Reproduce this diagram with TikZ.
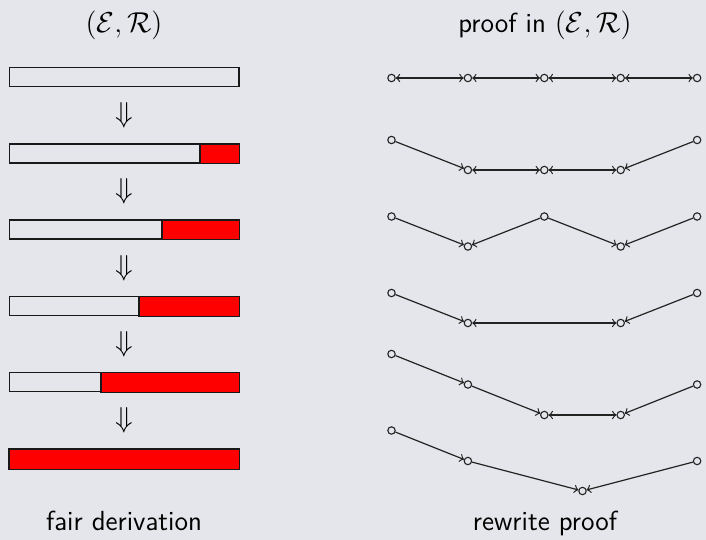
\documentclass[tikz,border=0pt]{standalone}
\usepackage{amsmath}
\definecolor{bg}{RGB}{229,230,235}
\definecolor{edgec}{RGB}{35,35,35}
\begin{document}
\begin{tikzpicture}[x=0.5pt,y=-0.5pt,
  bar/.style={draw=black!90,line width=0.55pt,fill=bg,rectangle,inner sep=0,minimum width=114.75pt,minimum height=9.5pt},
  redpart/.style={draw=black!90,line width=0.55pt,fill=red},
  lbl/.style={font=\fontsize{13.8}{16}\selectfont\sffamily,inner sep=0},
  darr/.style={font=\fontsize{13.8}{16}\selectfont,inner sep=0},
  pt/.style={circle,draw=edgec,line width=0.55pt,inner sep=0,minimum size=3.7pt},
  eg/.style={draw=edgec,line width=0.6pt},
  >=to]
\fill[bg] (0,0) rectangle (706,540);
\useasboundingbox (0,0) rectangle (706,540);

% titles
\node[lbl,anchor=base] (t1) at (124,33) {$(\mathcal{E},\mathcal{R})$};
\node[lbl,anchor=base] (t2) at (545,33) {proof in $(\mathcal{E},\mathcal{R})$};
\node[lbl,anchor=base] (t3) at (124,530) {fair derivation};
\node[lbl,anchor=base] (t4) at (545,530) {rewrite proof};

% bars
\node[bar] (b1) at (124.25,77) {};
\node[bar] (b2) at (124.25,153.5) {};
\node[bar] (b3) at (124.25,229.5) {};
\node[bar] (b4) at (124.25,306) {};
\node[bar] (b5) at (124.25,382) {};
\node[bar] (b6) at (124.25,459) {};
\draw[redpart] (200,153.5-19/2) rectangle (b2.south east);
\draw[redpart] (162,229.5-19/2) rectangle (b3.south east);
\draw[redpart] (139,306-19/2) rectangle (b4.south east);
\draw[redpart] (101,382-19/2) rectangle (b5.south east);
\draw[redpart] (b6.north west) rectangle (b6.south east);

% derivation arrows
\node[darr] (d1) at (124,115) {$\Downarrow$};
\node[darr] (d2) at (124,191.5) {$\Downarrow$};
\node[darr] (d3) at (124,268) {$\Downarrow$};
\node[darr] (d4) at (124,344) {$\Downarrow$};
\node[darr] (d5) at (124,420.5) {$\Downarrow$};

% row 1
\node[pt] (r1a) at (391.5,78) {};
\node[pt] (r1b) at (467.9,78) {};
\node[pt] (r1c) at (544.3,78) {};
\node[pt] (r1d) at (620.7,78) {};
\node[pt] (r1e) at (697.1,78) {};
\draw[eg,<->] (r1a) -- (r1b);
\draw[eg,<->] (r1b) -- (r1c);
\draw[eg,<->] (r1c) -- (r1d);
\draw[eg,<->] (r1d) -- (r1e);

% row 2
\node[pt] (r2a) at (391.5,140) {};
\node[pt] (r2b) at (467.9,170) {};
\node[pt] (r2c) at (544.3,170) {};
\node[pt] (r2d) at (620.7,170) {};
\node[pt] (r2e) at (697.1,140) {};
\draw[eg,->] (r2a) -- (r2b);
\draw[eg,<->] (r2b) -- (r2c);
\draw[eg,<->] (r2c) -- (r2d);
\draw[eg,->] (r2e) -- (r2d);

% row 3
\node[pt] (r3a) at (391.5,216.5) {};
\node[pt] (r3b) at (467.9,246.5) {};
\node[pt] (r3c) at (544.3,216.5) {};
\node[pt] (r3d) at (620.7,246.5) {};
\node[pt] (r3e) at (697.1,216.5) {};
\draw[eg,->] (r3a) -- (r3b);
\draw[eg,->] (r3c) -- (r3b);
\draw[eg,->] (r3c) -- (r3d);
\draw[eg,->] (r3e) -- (r3d);

% row 4
\node[pt] (r4a) at (391.5,293) {};
\node[pt] (r4b) at (467.9,323) {};
\node[pt] (r4d) at (620.7,323) {};
\node[pt] (r4e) at (697.1,293) {};
\draw[eg,->] (r4a) -- (r4b);
\draw[eg,<->] (r4b) -- (r4d);
\draw[eg,->] (r4e) -- (r4d);

% row 5
\node[pt] (r5a) at (391.5,354) {};
\node[pt] (r5b) at (467.9,384.5) {};
\node[pt] (r5c) at (544.3,415) {};
\node[pt] (r5d) at (620.7,415) {};
\node[pt] (r5e) at (697.1,384.5) {};
\draw[eg,->] (r5a) -- (r5b);
\draw[eg,->] (r5b) -- (r5c);
\draw[eg,<->] (r5c) -- (r5d);
\draw[eg,->] (r5e) -- (r5d);

% row 6
\node[pt] (r6a) at (391.5,430.5) {};
\node[pt] (r6b) at (467.9,461) {};
\node[pt] (r6c) at (582.5,491) {};
\node[pt] (r6e) at (697.1,461) {};
\draw[eg,->] (r6a) -- (r6b);
\draw[eg,->] (r6b) -- (r6c);
\draw[eg,->] (r6e) -- (r6c);
\end{tikzpicture}
\end{document}
